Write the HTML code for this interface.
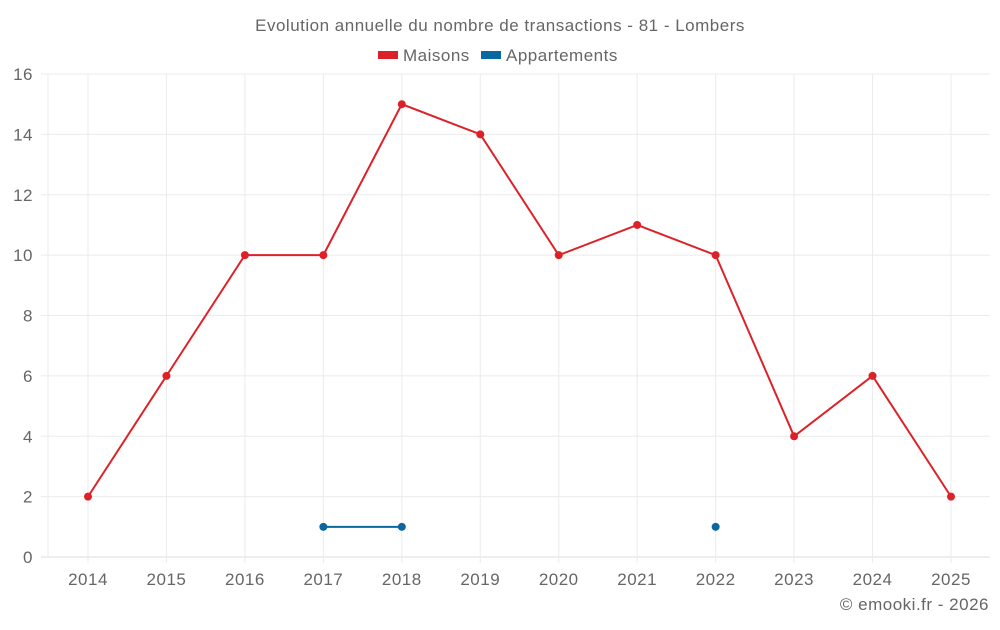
<!DOCTYPE html>
<html><head><meta charset="utf-8"><style>
body{margin:0;background:#fff;font-family:"Liberation Sans",sans-serif;}
svg text{font-family:"Liberation Sans",sans-serif;fill:#666;letter-spacing:0.5px;}
</style></head><body>
<svg id="chart" width="1000" height="625" xmlns="http://www.w3.org/2000/svg">
<text x="500" y="31" text-anchor="middle" font-size="17">Evolution annuelle du nombre de transactions - 81 - Lombers</text>
<g>
<g><rect x="378" y="51" width="20" height="8" fill="#dc2228"/><text x="403" y="61" font-size="17">Maisons</text></g>
<g><rect x="481" y="51" width="20" height="8" fill="#0a68a0"/><text x="506" y="61" font-size="17">Appartements</text></g>
</g>
<g id="grid"></g><g id="axes"></g><g id="series"></g>
<text x="989" y="610" text-anchor="end" font-size="17">© emooki.fr - 2026</text>
</svg>
<script>
const years=["2014","2015","2016","2017","2018","2019","2020","2021","2022","2023","2024","2025"];
const maisons=[2,6,10,10,15,14,10,11,10,4,6,2];
const appartements=[null,null,null,1,1,null,null,null,1,null,null,null];
const yTicks=[0,2,4,6,8,10,12,14,16];
const NS="http://www.w3.org/2000/svg";
const L=48,R=990,T=74,B=557,ymax=16;
const x0=88,x1=951;
function xs(i){return x0+(x1-x0)*i/(years.length-1);}
function ys(v){return B-(B-T)*v/ymax;}
function mk(tag,attrs,parent){const e=document.createElementNS(NS,tag);for(const k in attrs)e.setAttribute(k,attrs[k]);document.getElementById(parent).appendChild(e);return e;}
yTicks.forEach(t=>{
  const l=mk('line',{x1:41,x2:R,y1:ys(t),y2:ys(t),stroke:t===0?'#ddd':'#ebebeb','stroke-width':1},'grid');
  
  
  const tx=mk('text',{x:33,y:ys(t)+6,'text-anchor':'end','font-size':17},'axes');tx.textContent=t;
  
  
});
const bl=mk('line',{x1:L,x2:L,y1:T,y2:B,stroke:'#ebebeb'},'grid');


years.forEach((y,i)=>{
  const l=mk('line',{x1:xs(i),x2:xs(i),y1:T,y2:B+6,stroke:'#ebebeb'},'grid');
  
  
  const tx=mk('text',{x:xs(i),y:585,'text-anchor':'middle','font-size':17},'axes');tx.textContent=y;
  
  
});
function draw(vals,color,name){
  let seg=[];
  const flush=()=>{if(seg.length>1){const p=mk('polyline',{points:seg.join(' '),fill:'none',stroke:color,'stroke-width':2},'series');
    
    }seg=[];};
  vals.forEach((v,i)=>{if(v===null){flush();return;}seg.push(xs(i)+','+ys(v));});
  flush();
  vals.forEach((v,i)=>{if(v===null)return;
    const c=mk('circle',{cx:xs(i),cy:ys(v),r:4,fill:color},'series');
    
    });
}
draw(maisons,'#dc2228','maisons');
draw(appartements,'#0a68a0','appartements');
</script>
</body></html>
